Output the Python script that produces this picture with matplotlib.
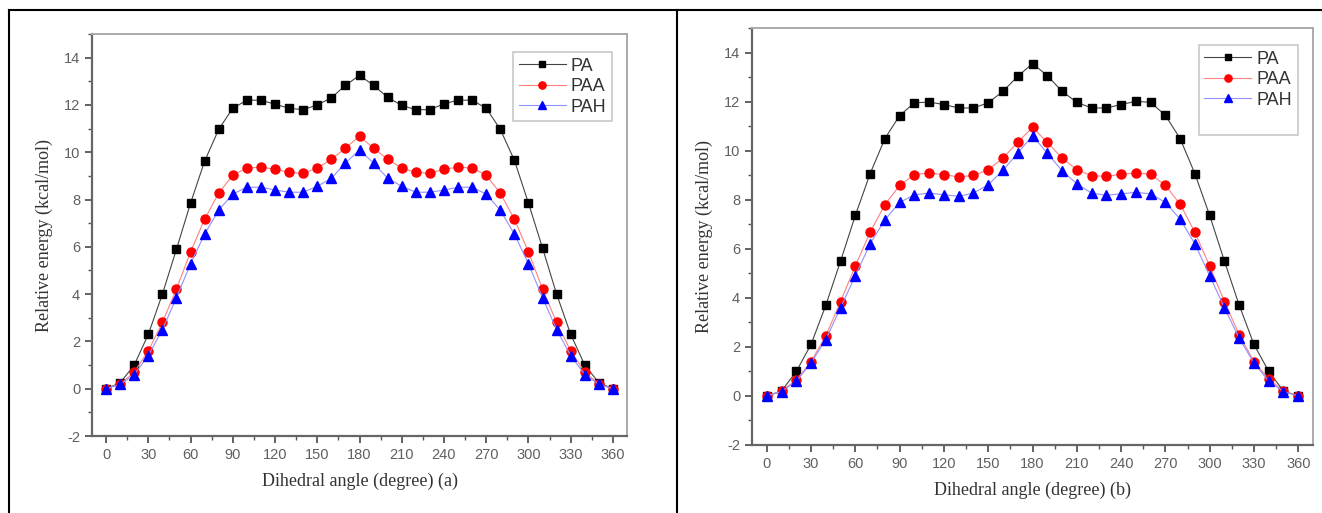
import matplotlib
matplotlib.use("Agg")
import matplotlib.pyplot as plt
from matplotlib.lines import Line2D
from matplotlib.ticker import MultipleLocator

plt.rcParams["axes.unicode_minus"] = False

# ----------------------------
# Data
# ----------------------------
angles = list(range(0, 361, 10))

pa_a = [0, 0.25, 1.0, 2.3, 4.0, 5.9, 7.85, 9.62, 10.97, 11.86, 12.2, 12.2, 12.03, 11.86, 11.8,
        12.0, 12.3, 12.83, 13.25, 12.83, 12.32, 11.98, 11.8, 11.8, 12.05, 12.2, 12.2, 11.86,
        10.97, 9.66, 7.85, 5.95, 4.0, 2.3, 1.0, 0.25, 0]
paa_a = [0, 0.2, 0.7, 1.6, 2.8, 4.22, 5.78, 7.17, 8.27, 9.03, 9.33, 9.37, 9.28, 9.15, 9.11,
         9.33, 9.7, 10.17, 10.68, 10.17, 9.7, 9.33, 9.15, 9.11, 9.28, 9.37, 9.33, 9.03,
         8.27, 7.17, 5.78, 4.22, 2.8, 1.6, 0.7, 0.2, 0]
pah_a = [0, 0.18, 0.6, 1.4, 2.5, 3.85, 5.28, 6.54, 7.55, 8.23, 8.52, 8.52, 8.4, 8.31, 8.31,
         8.56, 8.9, 9.54, 10.1, 9.54, 8.9, 8.56, 8.31, 8.31, 8.4, 8.52, 8.52, 8.23,
         7.55, 6.54, 5.28, 3.85, 2.5, 1.4, 0.6, 0.18, 0]

pa_b = [0, 0.2, 1.0, 2.1, 3.7, 5.5, 7.36, 9.06, 10.49, 11.43, 11.95, 11.98, 11.88, 11.74, 11.74,
        11.95, 12.42, 13.03, 13.55, 13.06, 12.42, 11.97, 11.74, 11.74, 11.88, 12.01, 11.97, 11.44,
        10.49, 9.06, 7.36, 5.5, 3.7, 2.1, 1.0, 0.2, 0]
paa_b = [0, 0.2, 0.65, 1.4, 2.45, 3.85, 5.3, 6.67, 7.8, 8.58, 9.02, 9.09, 9.02, 8.93, 8.99,
         9.22, 9.7, 10.34, 10.95, 10.34, 9.7, 9.22, 8.98, 8.95, 9.04, 9.09, 9.04, 8.58,
         7.82, 6.67, 5.3, 3.85, 2.5, 1.4, 0.7, 0.2, 0]
pah_b = [0, 0.18, 0.6, 1.35, 2.3, 3.6, 4.9, 6.2, 7.18, 7.89, 8.2, 8.27, 8.2, 8.14, 8.27,
         8.61, 9.2, 9.9, 10.61, 9.9, 9.18, 8.65, 8.27, 8.18, 8.24, 8.3, 8.24, 7.89,
         7.21, 6.2, 4.9, 3.6, 2.35, 1.35, 0.6, 0.18, 0]

labels = ["PA", "PAA", "PAH"]
panel_tags = ["(a)", "(b)"]

SANS = "Liberation Sans"
SERIF = "Liberation Serif"
TICK_GRAY = "#606060"

fig = plt.figure(figsize=(13.22, 5.13), dpi=100)

# table-like frame around the two panels
fig.add_artist(Line2D([9 / 1322, 9 / 1322], [0, 1 - 10 / 513], color="black", lw=1.5))
fig.add_artist(Line2D([9 / 1322, 1], [1 - 10 / 513, 1 - 10 / 513], color="black", lw=1.5))
fig.add_artist(Line2D([677 / 1322, 677 / 1322], [0, 1 - 10 / 513], color="black", lw=1.5))

ax_a = fig.add_axes([92 / 1322, 1 - 436 / 513, 535 / 1322, 402 / 513])
ax_b = fig.add_axes([752 / 1322, 1 - 445 / 513, 561 / 1322, 417 / 513])


def draw_panel(ax, pa, paa, pah, tag, blank_entry, anchor):
    ax.plot(angles, pa, color="#444444", lw=0.8, marker="s", ms=6,
            mfc="black", mec="black", label=labels[0])
    ax.plot(angles, paa, color="#ff8080", lw=0.8, marker="o", ms=6.5,
            mfc="red", mec="red", label=labels[1])
    ax.plot(angles, pah, color="#9090ff", lw=0.8, marker="^", ms=7,
            mfc="blue", mec="blue", label=labels[2])

    ax.set_xlim(-10, 370)
    ax.set_ylim(-2, 15)
    ax.xaxis.set_major_locator(MultipleLocator(30))
    ax.xaxis.set_minor_locator(MultipleLocator(15))
    ax.set_yticks(range(-2, 15, 2))
    ax.yaxis.set_minor_locator(MultipleLocator(1))

    for side in ["left", "bottom"]:
        ax.spines[side].set_color("#666666")
        ax.spines[side].set_linewidth(1.6)
    for side in ["top", "right"]:
        ax.spines[side].set_color("#aaaaaa")
        ax.spines[side].set_linewidth(1.4)

    ax.tick_params(which="major", direction="out", length=5, width=1.3,
                   color="#555555", labelcolor=TICK_GRAY, labelsize=10.5)
    ax.tick_params(which="minor", direction="out", length=3, width=1.0, color="#555555")
    for t in ax.get_xticklabels() + ax.get_yticklabels():
        t.set_fontfamily(SANS)

    ax.set_ylabel("Relative energy (kcal/mol)", fontfamily=SERIF, fontsize=13,
                  color="#333333", labelpad=8)
    ax.set_xlabel(f"Dihedral angle (degree) {tag}", fontfamily=SERIF, fontsize=13,
                  color="#333333", labelpad=8)

    handles, names = ax.get_legend_handles_labels()
    if blank_entry:
        handles.append(Line2D([], [], color="none"))
        names.append(" ")
    leg = ax.legend(handles, names, loc="upper right", bbox_to_anchor=anchor,
                    frameon=True, fancybox=False, edgecolor="#bbbbbb",
                    prop={"family": SANS, "size": 13}, handlelength=2.6,
                    handletextpad=0.3, borderpad=0.3, labelspacing=0.2,
                    borderaxespad=0.0, markerscale=0.8)
    leg.get_frame().set_linewidth(1.2)
    for t in leg.get_texts():
        t.set_color("#333333")


draw_panel(ax_a, pa_a, paa_a, pah_a, panel_tags[0], False, (0.972, 0.955))
draw_panel(ax_b, pa_b, paa_b, pah_b, panel_tags[1], True, (0.973, 0.959))

fig.savefig("out.png", dpi=100)
